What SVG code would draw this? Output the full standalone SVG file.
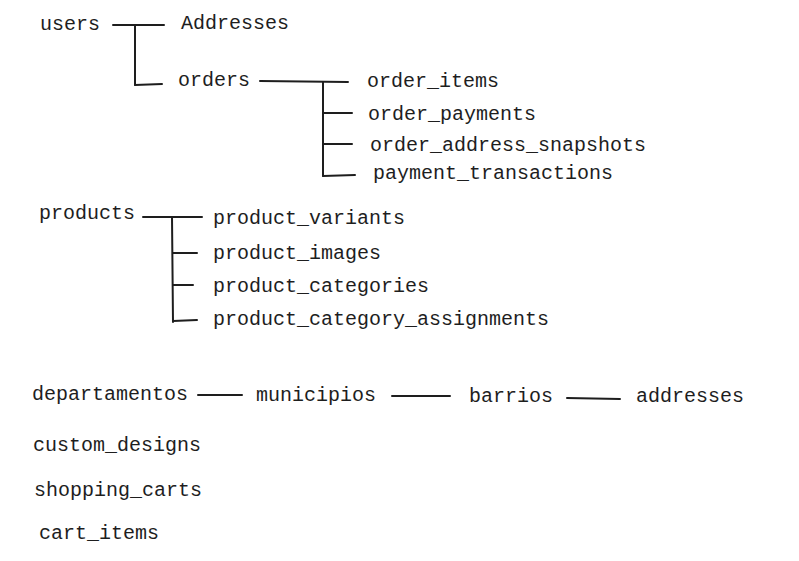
<svg xmlns="http://www.w3.org/2000/svg" width="799" height="561" viewBox="0 0 799 561">
<style>
.t{font-family:"Liberation Mono","DejaVu Sans Mono",monospace;font-size:20px;fill:#1e1e1e}
.c line,.c path{stroke:#1e1e1e;stroke-width:2;stroke-linecap:round;fill:none}
</style>
<rect width="799" height="561" fill="#ffffff"/>
<g class="c" id="connectors">
<line x1="113" y1="25" x2="164" y2="25"/>
<line x1="135" y1="25" x2="135" y2="85"/>
<line x1="135" y1="85" x2="162" y2="84"/>
<line x1="260" y1="81" x2="348" y2="82"/>
<line x1="323" y1="82" x2="323" y2="176"/>
<line x1="323" y1="113" x2="352" y2="113"/>
<line x1="323" y1="144" x2="352" y2="144"/>
<line x1="323" y1="176" x2="355" y2="175"/>
<line x1="143" y1="217" x2="202" y2="217"/>
<line x1="172" y1="217" x2="173" y2="322"/>
<line x1="173" y1="253" x2="197" y2="253"/>
<line x1="173" y1="285" x2="193" y2="285"/>
<line x1="173" y1="321" x2="197" y2="320"/>
<line x1="198" y1="395" x2="242" y2="395"/>
<line x1="392" y1="396" x2="450" y2="396"/>
<line x1="567" y1="398" x2="620" y2="399"/>
</g>
<g id="users"><text class="t" x="40" y="30">users</text></g>
<g id="Addresses"><text class="t" x="181" y="29">Addresses</text></g>
<g id="orders"><text class="t" x="178" y="86">orders</text></g>
<g id="order_items"><text class="t" x="367" y="87">order_items</text></g>
<g id="order_payments"><text class="t" x="368" y="120">order_payments</text></g>
<g id="order_address_snapshots"><text class="t" x="370" y="151">order_address_snapshots</text></g>
<g id="payment_transactions"><text class="t" x="373" y="179">payment_transactions</text></g>
<g id="products"><text class="t" x="39" y="219">products</text></g>
<g id="product_variants"><text class="t" x="213" y="224">product_variants</text></g>
<g id="product_images"><text class="t" x="213" y="259">product_images</text></g>
<g id="product_categories"><text class="t" x="213" y="292">product_categories</text></g>
<g id="product_category_assignments"><text class="t" x="213" y="325">product_category_assignments</text></g>
<g id="departamentos"><text class="t" x="32" y="400">departamentos</text></g>
<g id="municipios"><text class="t" x="256" y="401">municipios</text></g>
<g id="barrios"><text class="t" x="469" y="402">barrios</text></g>
<g id="addresses"><text class="t" x="636" y="402">addresses</text></g>
<g id="custom_designs"><text class="t" x="33" y="451">custom_designs</text></g>
<g id="shopping_carts"><text class="t" x="34" y="496">shopping_carts</text></g>
<g id="cart_items"><text class="t" x="39" y="539">cart_items</text></g>
</svg>
